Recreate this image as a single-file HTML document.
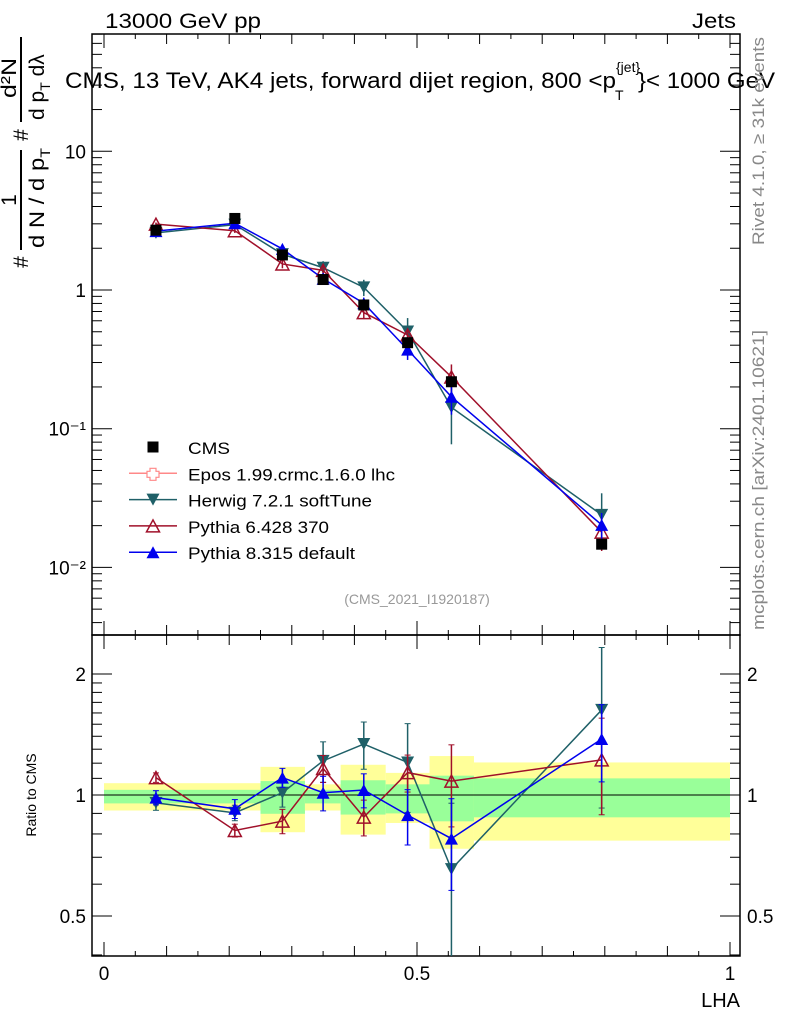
<!DOCTYPE html>
<html><head><meta charset="utf-8">
<style>
body{margin:0;background:#fff;}
svg{display:block;font-family:"Liberation Sans",sans-serif;}
</style></head>
<body>
<svg id="chart" width="786" height="1024" viewBox="0 0 786 1024" xmlns="http://www.w3.org/2000/svg">
<g id="bands"></g>
<g id="axes"></g>
<g id="series"></g>
<text x="105" y="28" font-size="21" textLength="156" lengthAdjust="spacingAndGlyphs">13000 GeV pp</text>
<text x="692" y="28" font-size="21" textLength="44" lengthAdjust="spacingAndGlyphs">Jets</text>
<g font-size="22">
<text x="65" y="88" textLength="551" lengthAdjust="spacingAndGlyphs">CMS, 13 TeV, AK4 jets, forward dijet region, 800 &lt;p</text>
<text x="616" y="72" font-size="14">{jet}</text>
<text x="615" y="100" font-size="14">T</text>
<text x="638" y="88" textLength="137" lengthAdjust="spacingAndGlyphs">}&lt; 1000 GeV</text>
</g>
<text transform="translate(764,245) rotate(-90)" font-size="17" fill="#888" textLength="208" lengthAdjust="spacingAndGlyphs">Rivet 4.1.0, ≥ 31k events</text>
<text transform="translate(764,630) rotate(-90)" font-size="17" fill="#888" textLength="300" lengthAdjust="spacingAndGlyphs">mcplots.cern.ch [arXiv:2401.10621]</text>
<text x="417" y="604" font-size="14" fill="#999" text-anchor="middle">(CMS_2021_I1920187)</text>
<g font-size="21">
<text transform="translate(28,262) rotate(-90)" text-anchor="middle">#</text>
<text transform="translate(16,200) rotate(-90)" text-anchor="middle">1</text>
<line x1="21" y1="150" x2="21" y2="250" stroke="#000" stroke-width="2"/>
<text transform="translate(44,248) rotate(-90)" textLength="100" lengthAdjust="spacingAndGlyphs">d N / d p<tspan font-size="14" dy="6">T</tspan></text>
<text transform="translate(28,135) rotate(-90)" text-anchor="middle">#</text>
<text transform="translate(16,98) rotate(-90)" textLength="40" lengthAdjust="spacingAndGlyphs">d²N</text>
<line x1="21" y1="37" x2="21" y2="122" stroke="#000" stroke-width="2"/>
<text transform="translate(44,120) rotate(-90)">d p<tspan font-size="14" dy="6">T</tspan><tspan dy="-6"> dλ</tspan></text>
</g>
<text transform="translate(36,795) rotate(-90)" font-size="14" text-anchor="middle">Ratio to CMS</text>
<text x="740" y="1007" font-size="20" text-anchor="end">LHA</text>
<g id="legend"></g>
</svg>
<script>
const xs = [0.083, 0.209, 0.285, 0.35, 0.415, 0.485, 0.555, 0.795];
const cmsValues = [2.7, 3.28, 1.79, 1.19, 0.78, 0.417, 0.218, 0.0147];
const herwigRatio = [0.956, 0.903, 1.013, 1.216, 1.339, 1.205, 0.654, 1.628];
const herwigErr = [0.04, 0.04, 0.08, 0.14, 0.18, 0.3, 0.3, 0.7];
const py6Ratio = [1.105, 0.816, 0.861, 1.164, 0.881, 1.137, 1.083, 1.223];
const py6Err = [0.03, 0.03, 0.06, 0.09, 0.09, 0.12, 0.25, 0.33];
const py8Ratio = [0.985, 0.924, 1.105, 1.013, 1.029, 0.891, 0.779, 1.378];
const py8Err = [0.04, 0.05, 0.06, 0.1, 0.1, 0.14, 0.2, 0.3];
const binEdges = [0, 0.25, 0.321, 0.378, 0.45, 0.52, 0.591, 1.0];
const yellowLo = [0.915, 0.808, 0.915, 0.797, 0.852, 0.735, 0.77];
const yellowHi = [1.07, 1.175, 1.063, 1.189, 1.135, 1.25, 1.205];
const greenLo = [0.953, 0.898, 0.953, 0.894, 0.9, 0.86, 0.88];
const greenHi = [1.03, 1.083, 1.03, 1.088, 1.063, 1.117, 1.10];
const mainTicks = ["10", "1", "10⁻¹", "10⁻²"];
const mainTickVals = [10, 1, 0.1, 0.01];
const ratioTicks = ["2", "1", "0.5"];
const ratioTickVals = [2, 1, 0.5];
const xTicks = ["0", "0.5", "1"];
const xTickVals = [0, 0.5, 1];

const NS = "http://www.w3.org/2000/svg";
const L = 92, R = 740, T = 34, MB = 635, RB = 956;
const X = v => 104 + 626 * v;
const YM = v => 290 - 138.7 * Math.log10(v);
const YR = v => 795 - 121 * Math.log2(v);
function mk(parent, tag, attrs) {
  const e = document.createElementNS(NS, tag);
  for (const k in attrs) e.setAttribute(k, attrs[k]);
  parent.appendChild(e);
  return e;
}
const bands = document.getElementById('bands');
const axes = document.getElementById('axes');
const series = document.getElementById('series');
const legend = document.getElementById('legend');

for (let i = 0; i < binEdges.length - 1; i++) {
  const x1 = X(binEdges[i]), x2 = X(binEdges[i + 1]);
  const y = mk(bands, 'rect', {x: x1, y: YR(yellowHi[i]), width: x2 - x1, height: YR(yellowLo[i]) - YR(yellowHi[i]), fill: '#ffff99'});
  
  
  const g = mk(bands, 'rect', {x: x1, y: YR(greenHi[i]), width: x2 - x1, height: YR(greenLo[i]) - YR(greenHi[i]), fill: '#99ff99'});
  
  
}
mk(axes, 'rect', {x: L, y: T, width: R - L, height: MB - T, fill: 'none', stroke: '#000', 'stroke-width': 1.5});
mk(axes, 'rect', {x: L, y: MB, width: R - L, height: RB - MB, fill: 'none', stroke: '#000', 'stroke-width': 1.5});
mk(axes, 'line', {x1: L, x2: R, y1: YR(1), y2: YR(1), stroke: '#000', 'stroke-width': 1});
for (let k = 0; k <= 20; k++) {
  const v = k * 0.05, x = X(v);
  const len = k % 10 === 0 ? 14 : (k % 2 === 0 ? 10 : 5);
  mk(axes, 'line', {x1: x, x2: x, y1: MB, y2: MB - len, stroke: '#000'});
  mk(axes, 'line', {x1: x, x2: x, y1: T, y2: T + len, stroke: '#000'});
  mk(axes, 'line', {x1: x, x2: x, y1: RB, y2: RB - len, stroke: '#000'});
  mk(axes, 'line', {x1: x, x2: x, y1: MB, y2: MB + len, stroke: '#000'});
}
xTicks.forEach((t, i) => {
  const e = mk(axes, 'text', {x: X(xTickVals[i]), y: 980, 'font-size': 19, 'text-anchor': 'middle'});
  e.textContent = t;
  
  
});
for (let d = -3; d <= 1; d++) {
  for (let m = 1; m <= 9; m++) {
    const v = m * Math.pow(10, d), y = YM(v);
    if (y < T || y > MB) continue;
    const len = m === 1 ? 20 : 10;
    mk(axes, 'line', {x1: L, x2: L + len, y1: y, y2: y, stroke: '#000'});
    mk(axes, 'line', {x1: R, x2: R - len, y1: y, y2: y, stroke: '#000'});
  }
}
mainTicks.forEach((t, i) => {
  const e = mk(axes, 'text', {x: 86, y: YM(mainTickVals[i]) + 7, 'font-size': 19, 'text-anchor': 'end'});
  e.textContent = t;
  
  
});
[0.4,0.5,0.6,0.7,0.8,0.9,1,1.1,1.2,1.3,1.4,1.5,1.6,1.7,1.8,1.9,2].forEach(v => {
  const y = YR(v);
  const len = (v === 0.5 || v === 1 || v === 2) ? 20 : 10;
  mk(axes, 'line', {x1: L, x2: L + len, y1: y, y2: y, stroke: '#000'});
  mk(axes, 'line', {x1: R, x2: R - len, y1: y, y2: y, stroke: '#000'});
});
ratioTicks.forEach((t, i) => {
  const e = mk(axes, 'text', {x: 86, y: YR(ratioTickVals[i]) + 7, 'font-size': 19, 'text-anchor': 'end'});
  e.textContent = t;
  
  
  const e2 = mk(axes, 'text', {x: 747, y: YR(ratioTickVals[i]) + 7, 'font-size': 19});
  e2.textContent = t;
  
  
});

function marker(g, type, x, y, color) {
  if (type === 'square') return mk(g, 'rect', {x: x - 5.5, y: y - 5.5, width: 11, height: 11, fill: '#000'});
  if (type === 'down') return mk(g, 'polygon', {points: `${x-6.5},${y-6} ${x+6.5},${y-6} ${x},${y+6}`, fill: color});
  if (type === 'up') return mk(g, 'polygon', {points: `${x-6.5},${y+6} ${x+6.5},${y+6} ${x},${y-6}`, fill: color});
  if (type === 'upOpen') return mk(g, 'polygon', {points: `${x-6.5},${y+6} ${x+6.5},${y+6} ${x},${y-6}`, fill: 'none', stroke: color, 'stroke-width': 1.5});
}
function clipY(y, lo, hi) { return Math.max(lo, Math.min(hi, y)); }
function drawSeries(name, ratio, err, color, type) {
  const g = mk(series, 'g', {});
  
  
  const mainPts = xs.map((x, i) => [X(x), YM(cmsValues[i] * ratio[i])]);
  const ratPts = xs.map((x, i) => [X(x), YR(ratio[i])]);
  mk(g, 'polyline', {points: mainPts.map(p => p.join(',')).join(' '), fill: 'none', stroke: color, 'stroke-width': 1.5});
  mk(g, 'polyline', {points: ratPts.map(p => p.join(',')).join(' '), fill: 'none', stroke: color, 'stroke-width': 1.5});
  xs.forEach((x, i) => {
    const px = X(x);
    const v = cmsValues[i] * ratio[i], rel = err[i] / ratio[i];
    const y1 = YM(v * (1 + rel)), y2 = YM(Math.max(v * (1 - rel), 1e-4));
    mk(g, 'line', {x1: px, x2: px, y1: clipY(y1, T, MB), y2: clipY(y2, T, MB), stroke: color, 'stroke-width': 1.5});
    const r1 = YR(ratio[i] + err[i]), r2 = YR(Math.max(ratio[i] - err[i], 0.01));
    mk(g, 'line', {x1: px, x2: px, y1: clipY(r1, MB, RB), y2: clipY(r2, MB, RB), stroke: color, 'stroke-width': 1.5});
    [r1, r2].forEach(r => { if (r > MB && r < RB) mk(g, 'line', {x1: px - 3, x2: px + 3, y1: r, y2: r, stroke: color}); });
    const m = marker(g, type, px, mainPts[i][1], color);
    
    
    const m2 = marker(g, type, px, ratPts[i][1], color);
    
    
  });
}
drawSeries('herwig', herwigRatio, herwigErr, '#1f6068', 'down');
drawSeries('pythia6', py6Ratio, py6Err, '#a0102a', 'upOpen');
drawSeries('pythia8', py8Ratio, py8Err, '#0000ee', 'up');
const cg = mk(series, 'g', {});


xs.forEach((x, i) => {
  const m = marker(cg, 'square', X(x), YM(cmsValues[i]), '#000');
  
  
});
const entries = [
  ['CMS', 'square', '#000', false, 42],
  ['Epos 1.99.crmc.1.6.0 lhc', 'plus', '#ff8888', true, 207],
  ['Herwig 7.2.1 softTune', 'down', '#1f6068', true, 184],
  ['Pythia 6.428 370', 'upOpen', '#a0102a', true, 141],
  ['Pythia 8.315 default', 'up', '#0000ee', true, 167]
];
entries.forEach((en, i) => {
  const y = 447 + i * 26.3;
  const g = mk(legend, 'g', {});
  
  
  if (en[3]) mk(g, 'line', {x1: 129, x2: 177, y1: y, y2: y, stroke: en[2], 'stroke-width': 1.5});
  if (en[1] === 'plus') {
    mk(g, 'path', {d: `M${150},${y-5}h6v3h3v6h-3v3h-6v-3h-3v-6h3z`, fill: '#fff', stroke: en[2], 'stroke-width': 1.2});
  } else marker(g, en[1], 153, y, en[2]);
  const t = mk(g, 'text', {x: 188, y: y + 7, 'font-size': 17, textLength: en[4], lengthAdjust: 'spacingAndGlyphs'});
  t.textContent = en[0];
});
</script>
</body></html>
